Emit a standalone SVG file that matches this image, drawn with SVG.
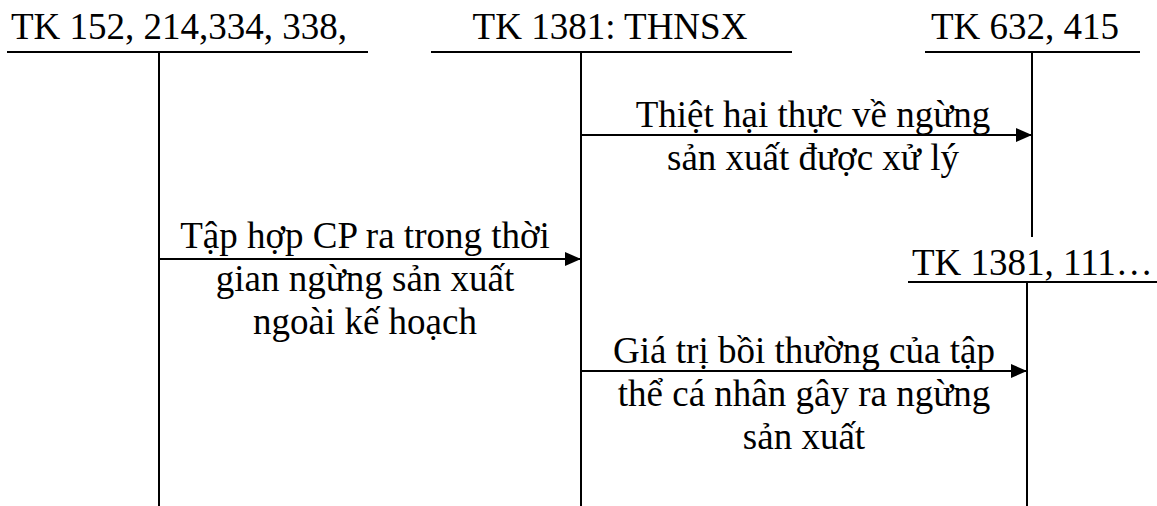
<svg xmlns="http://www.w3.org/2000/svg" width="1157" height="506" viewBox="0 0 1157 506">
  <style>
    text { font-family: "Liberation Serif", "Times New Roman", serif; font-size: 37px; fill: #000; }
    .mid { text-anchor: middle; }
    .ln { stroke: #000; stroke-width: 2; fill: none; }
  </style>
  <defs>
    <marker id="arr" markerWidth="16" markerHeight="14" refX="16" refY="7" orient="auto" markerUnits="userSpaceOnUse">
      <path d="M0,0 L16,7 L0,14 Z" fill="#000"/>
    </marker>
  </defs>
  <rect width="1157" height="506" fill="#fff"/>

  <g id="tk152">
    <text x="11" y="39">TK 152, 214,334, 338,</text>
    <line class="ln" x1="7" y1="52" x2="368" y2="52"/>
    <line class="ln" x1="159" y1="52" x2="159" y2="506"/>
  </g>
  <g id="tk1381">
    <text class="mid" x="610" y="39">TK 1381: THNSX</text>
    <line class="ln" x1="431" y1="52" x2="792" y2="52"/>
    <line class="ln" x1="581" y1="52" x2="581" y2="506"/>
  </g>
  <g id="tk632">
    <text class="mid" x="1025" y="39">TK 632, 415</text>
    <line class="ln" x1="925" y1="52" x2="1140" y2="52"/>
    <line class="ln" x1="1032" y1="52" x2="1032" y2="237"/>
  </g>
  <g id="tk1381b">
    <text x="912" y="275">TK 1381, 111…</text>
    <line class="ln" x1="908" y1="282" x2="1157" y2="282"/>
    <line class="ln" x1="1027" y1="282" x2="1027" y2="506"/>
  </g>

  <g id="connectors">
    <line class="ln" x1="581" y1="135" x2="1032" y2="135" marker-end="url(#arr)"/>
    <line class="ln" x1="159" y1="259" x2="581" y2="259" marker-end="url(#arr)"/>
    <line class="ln" x1="581" y1="371" x2="1027" y2="371" marker-end="url(#arr)"/>
  </g>

  <g id="labels">
    <text class="mid" x="813" y="127">Thiệt hại thực về ngừng</text>
    <text class="mid" x="813" y="170">sản xuất được xử lý</text>
    <text class="mid" x="365" y="248">Tập hợp CP ra trong thời</text>
    <text class="mid" x="365" y="291">gian ngừng sản xuất</text>
    <text class="mid" x="365" y="334">ngoài kế hoạch</text>
    <text class="mid" x="804" y="363">Giá trị bồi thường của tập</text>
    <text class="mid" x="804" y="406">thể cá nhân gây ra ngừng</text>
    <text class="mid" x="804" y="449">sản xuất</text>
  </g>
</svg>
